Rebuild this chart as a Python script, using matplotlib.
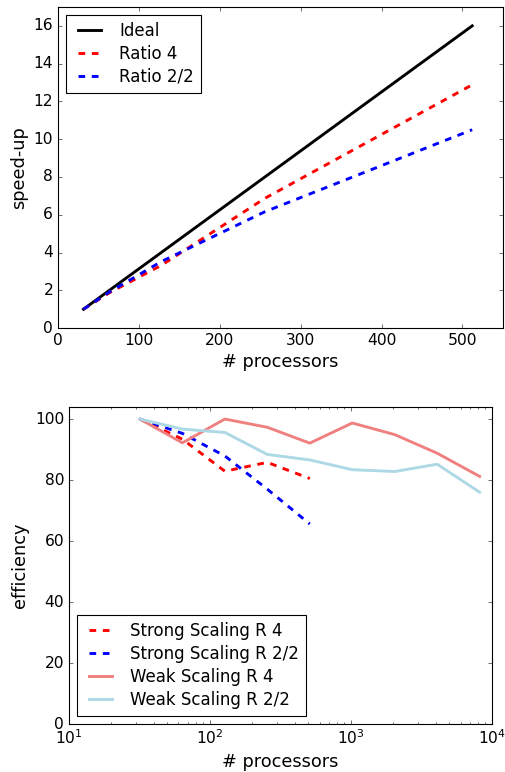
import matplotlib
matplotlib.use("Agg")
import matplotlib.pyplot as plt

plt.style.use("classic")

# Strong scaling (speed-up relative to 32 processors)
procs_strong = [32, 64, 128, 256, 512]
ideal_speedup = [1, 2, 4, 8, 16]
speedup_r4 = [1.0, 1.87, 3.32, 6.87, 12.88]
speedup_r22 = [1.0, 1.91, 3.52, 6.16, 10.5]

# Efficiency (%)
eff_strong_r4 = [100, 93.4, 82.9, 85.8, 80.5]
eff_strong_r22 = [100, 95.3, 87.9, 77.0, 65.6]
procs_weak = [32, 64, 128, 256, 512, 1024, 2048, 4096, 8192]
eff_weak_r4 = [100, 92.2, 100, 97.3, 92.1, 98.7, 94.9, 88.8, 81.2]
eff_weak_r22 = [100, 96.7, 95.6, 88.4, 86.6, 83.4, 82.8, 85.2, 76.0]

fig = plt.figure(figsize=(505 / 80, 772 / 80), dpi=80, facecolor="white")

LW = 2.6

ax1 = fig.add_axes([0.114, 0.575, 0.882, 0.416])
ax1.plot(procs_strong, ideal_speedup, "k-", lw=LW, label="Ideal")
ax1.plot(procs_strong, speedup_r4, "r--", lw=LW, label="Ratio 4")
ax1.plot(procs_strong, speedup_r22, "b--", lw=LW, label="Ratio 2/2")
ax1.set_xlim(0, 550)
ax1.set_ylim(0, 17)
ax1.set_xlabel("# processors", fontsize=16)
ax1.set_ylabel("speed-up", fontsize=16)
ax1.tick_params(labelsize=14)
ax1.legend(loc="upper left", fontsize=15, labelspacing=0.3)

ax2 = fig.add_axes([0.136, 0.062, 0.838, 0.411])
ax2.semilogx(procs_strong, eff_strong_r4, "r--", lw=LW, label="Strong Scaling R 4")
ax2.semilogx(procs_strong, eff_strong_r22, "b--", lw=LW, label="Strong Scaling R 2/2")
ax2.semilogx(procs_weak, eff_weak_r4, "-", color="lightcoral", lw=LW, label="Weak Scaling R 4")
ax2.semilogx(procs_weak, eff_weak_r22, "-", color="lightblue", lw=LW, label="Weak Scaling R 2/2")
ax2.set_xlim(10, 1e4)
ax2.set_ylim(0, 104)
ax2.set_xlabel("# processors", fontsize=16)
ax2.set_ylabel("efficiency", fontsize=16)
ax2.tick_params(labelsize=14)
ax2.legend(loc="lower left", fontsize=15, labelspacing=0.3)

fig.savefig("out.png", dpi=80, facecolor="white")
